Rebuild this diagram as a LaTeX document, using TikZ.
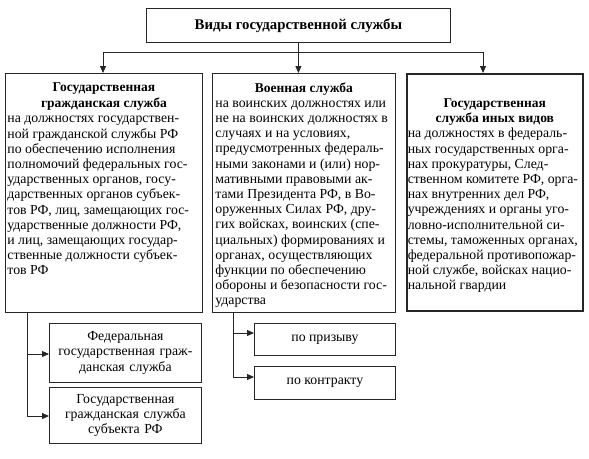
\documentclass[tikz,border=0pt]{standalone}
\usepackage{fontspec}
\setmainfont{Liberation Serif}
\usetikzlibrary{arrows.meta,positioning}
\begin{document}
\begin{tikzpicture}[x=1pt,y=-1pt,
 box/.style={draw=black!85,line width=0.8pt,inner sep=0pt,anchor=north west,
  font=\fontsize{13.8}{15.2}\selectfont},
 lnk/.style={draw=black!85,line width=0.8pt},
 arr/.style={lnk,-{Triangle[length=7pt,width=6pt]}}]
\useasboundingbox (0,0) rectangle (589,458);
% top
\node[box,minimum width=304pt,minimum height=34pt,font=\fontsize{14.8}{16}\selectfont\bfseries] (vidy) at (146,8) {Виды государственной службы};
% three kinds
\node[box,minimum width=197pt,minimum height=239pt] (gs) at (5,73)
 {\parbox[c][239pt][t]{193pt}{\vspace*{9pt}%
 {\centering\bfseries\fontsize{13.5}{16.5}\selectfont Государственная\\ гражданская служба\par}
 \raggedright на должностях государствен-\\ ной гражданской службы РФ\\ по обеспечению исполнения\\ полномочий федеральных гос-\\ ударственных органов, госу-\\ дарственных органов субъек-\\ тов РФ, лиц, замещающих гос-\\ ударственные должности РФ,\\ и лиц, замещающих государ-\\ ственные должности субъек-\\ тов РФ\par}};
\node[box,minimum width=183pt,minimum height=239pt] (vs) at (212,73)
 {\parbox[c][239pt][t]{177pt}{\vspace*{9pt}%
 {\centering\bfseries\fontsize{13.5}{15.2}\selectfont Военная служба\par}
 \raggedright на воинских должностях или\\ не на воинских должностях в\\ случаях и на условиях,\\ предусмотренных федераль-\\ ными законами и (или) нор-\\ мативными правовыми ак-\\ тами Президента РФ, в Во-\\ оруженных Силах РФ, дру-\\ гих войсках, воинских (спе-\\ циальных) формированиях и\\ органах, осуществляющих\\ функции по обеспечению\\ обороны и безопасности гос-\\ ударства\par}};
\node[box,line width=1.5pt,minimum width=176pt,minimum height=237pt] (in) at (406,73)
 {\parbox[c][237pt][t]{174pt}{\vspace*{25pt}%
 {\centering\bfseries\fontsize{13.5}{15.2}\selectfont Государственная\\ служба иных видов\par}
 \raggedright на должностях в федераль-\\ ных государственных орга-\\ нах прокуратуры, След-\\ ственном комитете РФ, орга-\\ нах внутренних дел РФ,\\ учреждениях и органы уго-\\ ловно-исполнительной си-\\ стемы, таможенных органах,\\ федеральной противопожар-\\ ной службе, войсках нацио-\\ нальной гвардии\par}};
% sub boxes
\node[box,minimum width=152pt,minimum height=59pt,text width=150pt,align=center] (fed) at (49,323)
 {Федеральная\\ государственная граж-\\ данская служба};
\node[box,minimum width=152pt,minimum height=56pt,text width=150pt,align=center] (sub) at (49,387)
 {Государственная\\ гражданская служба\\ субъекта РФ};
\node[box,minimum width=141pt,minimum height=32pt] (pp) at (254,323) {по призыву};
\node[box,minimum width=141pt,minimum height=33pt] (pk) at (254,366) {по контракту};
% connectors
\coordinate (jl) at (103,52);
\coordinate (jr) at (483,52);
\coordinate (lb1) at (27,354);
\coordinate (lb2) at (27,416);
\coordinate (mb1) at (233,333);
\coordinate (mb2) at (233,377);
\draw[lnk] (jl) -- (jr);
\draw[arr] (jl) -- (jl |- gs.north);
\draw[arr] (jr) -- (jr |- in.north);
\draw[arr] (vidy.south) -- (vidy.south |- vs.north);
\draw[lnk] (lb2 |- gs.south) -- (lb2);
\draw[arr] (lb1) -- (lb1 -| fed.west);
\draw[arr] (lb2) -- (lb2 -| sub.west);
\draw[lnk] (mb2 |- vs.south) -- (mb2);
\draw[arr] (mb1) -- (mb1 -| pp.west);
\draw[arr] (mb2) -- (mb2 -| pk.west);
\end{tikzpicture}
\end{document}
